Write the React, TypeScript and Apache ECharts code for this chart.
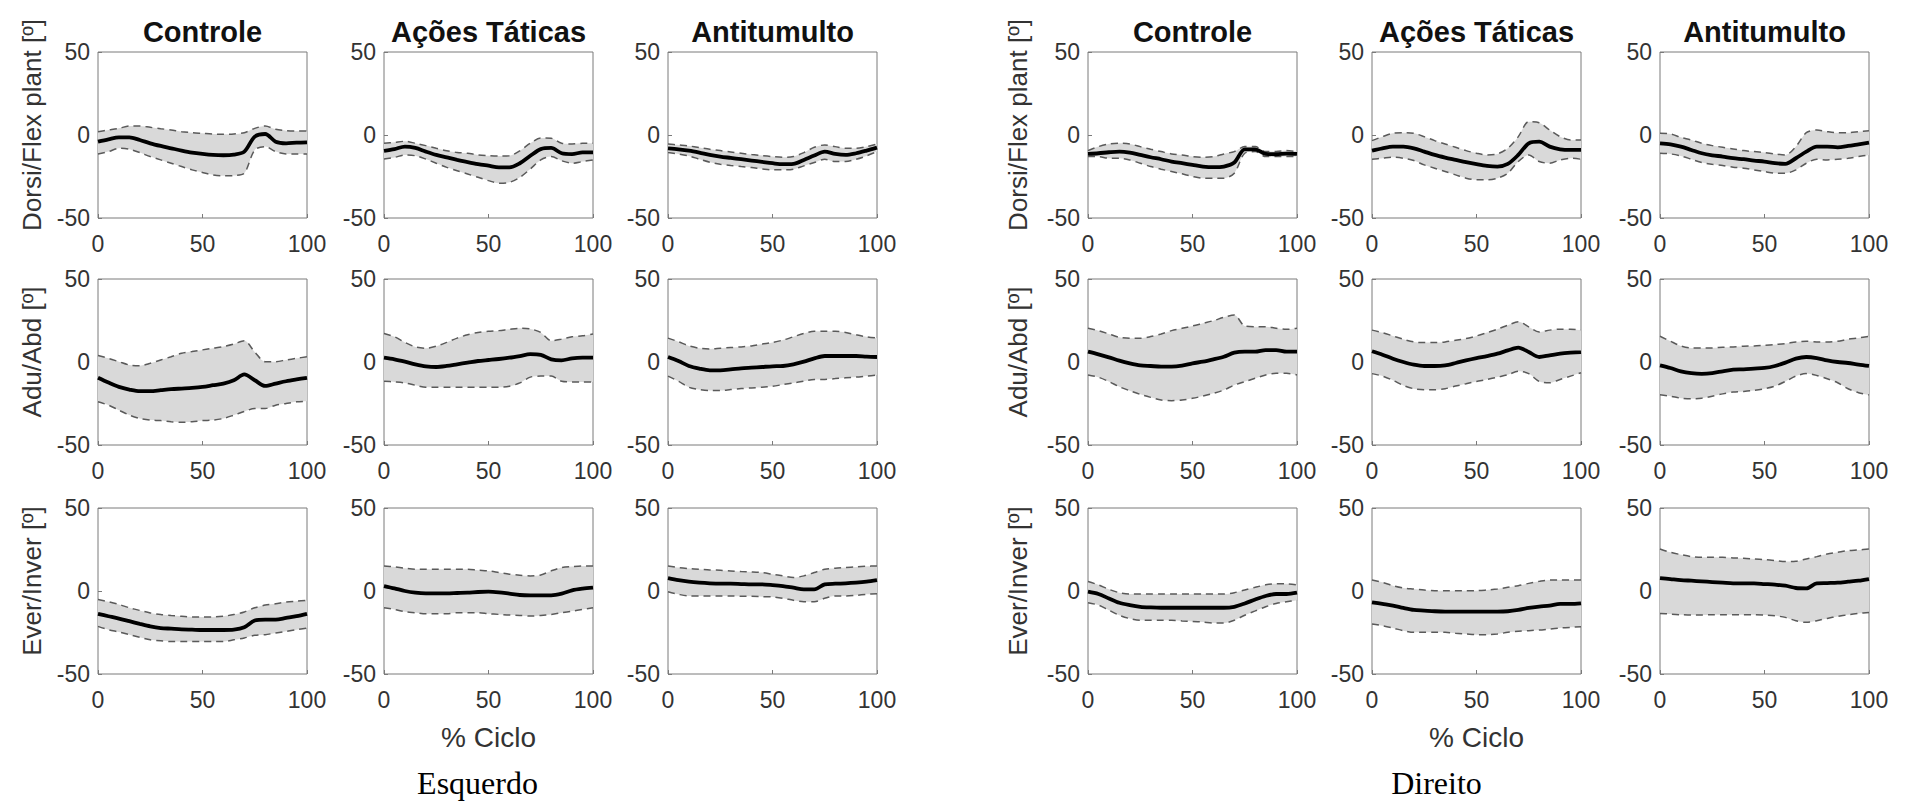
import React, { useEffect, useRef } from "react";
import * as echarts from "echarts";

// ---------------- DATA ----------------
const pct = [0, 5, 10, 15, 20, 25, 30, 35, 40, 45, 50, 55, 60, 65, 70, 75, 80, 85, 90, 95, 100];
const xTickValues = [0, 50, 100];
const groupTitles = ["Controle", "Ações Táticas", "Antitumulto"];
const rowLabels = ["Dorsi/Flex plant [º]", "Adu/Abd [º]", "Ever/Inver [º]"];
const sideLabels = ["Esquerdo", "Direito"];
const xAxisTitle = "% Ciclo";
const yMin = -50;
const yMax = 50;
const yTickStep = 50;

// Esquerdo – Dorsi/Flex plant
const L_DF_CTRL_MEAN = [-4, -2.6, -1.4, -1.4, -3, -5, -6.6, -8, -9.4, -10.6, -11.4, -12, -12.2, -11.8, -10, -1, 0.6, -4, -5, -4.6, -4.4];
const L_DF_CTRL_UP = [2, 3, 4, 5.4, 5.4, 4.6, 3.8, 3, 2, 1.4, 1, 0.6, 0.4, 0.6, 1.4, 4, 5.4, 3.4, 2.6, 2.4, 2.4];
const L_DF_CTRL_LO = [-11.4, -10, -8, -8.6, -10.6, -13, -15, -17, -19, -21, -22.6, -24, -24.6, -24.4, -23, -9, -7, -10, -11.4, -11.4, -11.4];

const L_DF_TAT_MEAN = [-9.5, -8.5, -7, -7.8, -10, -12, -13.5, -15, -16.3, -17.5, -18.5, -19.5, -19.5, -17, -12.5, -8.5, -7.8, -11, -11.5, -10.5, -10.5];
const L_DF_TAT_UP = [-5, -4.4, -3.8, -5, -6.4, -8, -9.5, -10.5, -11, -12, -12.5, -12.7, -12.5, -9.5, -5, -1.8, -2, -5, -5.4, -5, -5];
const L_DF_TAT_LO = [-14.5, -13.5, -12, -12.5, -14.5, -17, -19.5, -21.5, -23.5, -25.5, -27.5, -29, -28.5, -25.5, -20.5, -15, -13, -15.5, -17, -16, -15];

const L_DF_ANT_MEAN = [-8, -8.6, -9.4, -10.6, -12, -13, -13.8, -14.6, -15.4, -16.2, -17, -17.6, -17.4, -15, -12.4, -10, -11.4, -12, -11, -9.4, -7.6];
const L_DF_ANT_UP = [-5.4, -6, -6.6, -7.6, -8.6, -9.4, -10.2, -11, -11.8, -12.4, -13, -13.4, -13, -10.6, -7.4, -6, -7, -8, -8, -7, -5.4];
const L_DF_ANT_LO = [-10.6, -11.4, -12.6, -14.6, -16.4, -17.6, -18.4, -19, -19.6, -20.4, -21, -21, -20.6, -18.6, -16.6, -14.6, -16, -16, -14.6, -12.6, -10];

// Esquerdo – Adu/Abd
const L_AA_CTRL_MEAN = [-9.5, -12.4, -15, -16.6, -17.6, -17.6, -17, -16.4, -16, -15.6, -15, -14, -13, -11, -7.5, -11, -14.4, -13, -11.6, -10.5, -9.5];
const L_AA_CTRL_UP = [3.9, 2.2, 0.2, -1.8, -2.2, -0.8, 1.2, 3.2, 5.3, 6.3, 7.3, 8.3, 9.3, 10.8, 12.8, 6, 0.2, 0.2, 1.2, 2.2, 3.2];
const L_AA_CTRL_LO = [-24, -26, -29, -32, -34, -35, -35.3, -36, -36.3, -36, -35.3, -35, -34, -32, -29.8, -28, -28, -26, -25, -24, -23.7];

const L_AA_TAT_MEAN = [2.6, 1.6, 0.2, -1.4, -2.6, -3, -2.4, -1.4, -0.4, 0.6, 1.2, 1.8, 2.6, 3.6, 4.7, 4.3, 1.6, 1, 2.2, 2.6, 2.6];
const L_AA_TAT_UP = [17.2, 15.2, 11.8, 9.1, 8.3, 9.5, 11.8, 14.4, 16.4, 17.8, 18.5, 18.9, 19.7, 20.3, 19.9, 17.8, 12.8, 13.8, 15.2, 15.8, 16.8];
const L_AA_TAT_LO = [-11.6, -12, -12.6, -14, -15.2, -15.2, -15.2, -15.2, -15.2, -15.2, -15.2, -15.2, -14.6, -12.6, -9.1, -8.5, -8.5, -11.6, -12, -12, -12];

const L_AA_ANT_MEAN = [3, 0.6, -2.4, -4, -5, -5, -4.5, -3.8, -3.4, -3, -2.6, -2.4, -1.4, 0.2, 2.2, 3.6, 3.6, 3.6, 3.6, 3.2, 3];
const L_AA_ANT_UP = [14.4, 12.2, 9.7, 8.3, 7.9, 8.3, 8.7, 9.1, 9.7, 10.8, 11.8, 13.2, 15.2, 17.2, 18.5, 18.5, 18.5, 17.8, 16.4, 15.2, 14.4];
const L_AA_ANT_LO = [-8.5, -11.6, -15.2, -16.6, -17.2, -17.2, -16.6, -16, -15.6, -15.2, -14.6, -13.6, -12.6, -11.6, -10.5, -10.5, -10, -9.5, -9.1, -8.5, -7.9];

// Esquerdo – Ever/Inver
const L_EI_CTRL_MEAN = [-13.8, -15.2, -16.6, -18.2, -19.8, -21.3, -22.3, -22.7, -23.1, -23.3, -23.5, -23.5, -23.5, -23.3, -21.9, -17.8, -17.2, -17.2, -16.2, -15.2, -13.8];
const L_EI_CTRL_UP = [-5.1, -6.5, -8.1, -10.1, -11.7, -13.2, -14.2, -14.8, -15.2, -15.6, -15.6, -15.6, -15.2, -14.2, -12.6, -10.1, -8.5, -7.7, -6.7, -6.1, -5.7];
const L_EI_CTRL_LO = [-21.3, -23.3, -24.7, -26.3, -27.9, -29.4, -30, -30.4, -30.4, -30.4, -30.4, -30.4, -30.4, -29.4, -28.3, -26.7, -26.3, -25.3, -24.3, -23.3, -22.3];

const L_EI_TAT_MEAN = [3, 1.6, 0, -1, -1.4, -1.4, -1.4, -1.2, -1, -0.6, -0.4, -0.8, -1.6, -2.4, -2.6, -2.6, -2.6, -1.6, 0.4, 1.4, 2];
const L_EI_TAT_UP = [15.1, 14.5, 13.7, 13.1, 13.1, 13.1, 13.1, 13.1, 13.1, 12.5, 12.1, 11.1, 10.1, 9.5, 9.1, 9.7, 12.1, 14.1, 14.7, 15.1, 15.1];
const L_EI_TAT_LO = [-10.1, -11.1, -12.5, -13.1, -13.7, -13.7, -13.7, -13.1, -13.1, -13.1, -13.7, -14.1, -14.5, -14.7, -15.1, -14.7, -14.1, -13.1, -12.1, -11.1, -10.1];

const L_EI_ANT_MEAN = [7.7, 6.5, 5.6, 5, 4.6, 4.4, 4.4, 4.2, 4, 4, 3.6, 3, 2, 1, 1, 4, 4.4, 4.6, 5, 5.6, 6.5];
const L_EI_ANT_UP = [15.1, 14.1, 13.5, 13.1, 12.7, 12.5, 12.1, 11.7, 11.5, 11.1, 10.1, 9.1, 8.1, 9.1, 11.1, 13.1, 13.7, 14.1, 14.5, 14.9, 15.1];
const L_EI_ANT_LO = [-0.4, -2, -3, -3, -3, -3, -3, -3.2, -3.2, -3.4, -3.6, -4.4, -5.6, -6.5, -6.5, -4.4, -3, -3, -2.6, -2, -1.6];

// Direito – Dorsi/Flex plant
const R_DF_CTRL_MEAN = [-11.4, -11, -10.4, -10, -10.6, -12, -13.4, -14.6, -16, -17, -18, -19, -19.4, -19, -16.6, -8.6, -8.6, -11.4, -11.6, -11.2, -11.4];
const R_DF_CTRL_UP = [-9.4, -7, -5.4, -5, -5.4, -7, -8.6, -10, -11.4, -12, -13, -13.4, -13, -11.4, -10, -7, -7, -10, -10, -9.4, -10];
const R_DF_CTRL_LO = [-13, -13, -14, -14, -15, -17, -19, -20.6, -22, -23.4, -25, -26, -26, -26, -23, -11, -10, -13, -13, -13, -13];

const R_DF_TAT_MEAN = [-9.4, -8, -7, -7, -8, -10, -12, -13.6, -15, -16.4, -17.6, -18.6, -19, -17.4, -12, -5, -4, -7, -8.6, -9, -9];
const R_DF_TAT_UP = [-3.4, -1, 1, 1.4, 1, -1, -3.4, -5.4, -7.4, -9.4, -11, -12, -11.4, -8, -1, 8, 7.4, 3, -1, -3, -3];
const R_DF_TAT_LO = [-14.6, -14, -13.4, -14, -15.4, -18, -20, -22, -24, -26, -27, -27, -26, -23, -16, -12, -16, -17, -15, -14, -14.6];

const R_DF_ANT_MEAN = [-5, -5.6, -7, -9, -11, -12.2, -13, -14, -14.6, -15.4, -16, -17, -17.4, -14, -10, -7, -7, -7.4, -6.6, -5.6, -4.6];
const R_DF_ANT_UP = [1, 0.6, -1.4, -3, -5, -6.4, -7.4, -8.4, -9.4, -10, -10.6, -11.4, -12, -7, 1.4, 3, 2, 1.4, 1.4, 2, 2.6];
const R_DF_ANT_LO = [-11, -11.4, -12.6, -14.6, -16.6, -17.6, -18.4, -19.4, -20, -21, -22, -23, -23, -21, -17, -14.6, -15, -14.6, -14, -13, -12];

// Direito – Adu/Abd
const R_AA_CTRL_MEAN = [6.2, 4.6, 2.8, 0.8, -0.8, -2, -2.4, -2.8, -2.8, -2.2, -0.8, 0.2, 1.6, 3.2, 5.6, 6.2, 6.2, 7.2, 7.2, 6.2, 6.2];
const R_AA_CTRL_UP = [20.3, 18.9, 16.9, 14.9, 14.3, 14.3, 15.3, 16.9, 18.9, 20.3, 21.7, 23.3, 24.9, 26.9, 28.3, 21.7, 21.3, 21.3, 20.3, 19.7, 20.3];
const R_AA_CTRL_LO = [-7.8, -9.2, -11.8, -14.9, -17.3, -19.5, -21.3, -22.9, -23.3, -22.9, -21.9, -20.5, -18.9, -16.9, -13.9, -11.8, -9.8, -7.8, -6.8, -6.8, -7.8];

const R_AA_TAT_MEAN = [6.5, 4.4, 2, 0, -1.6, -2.4, -2.4, -2, -0.6, 1, 2.4, 3.6, 5, 7, 8.7, 6, 3, 4, 5, 5.6, 6];
const R_AA_TAT_UP = [19.2, 17.7, 15.7, 13.7, 12.1, 11.7, 11.7, 12.1, 13.1, 14.1, 15.7, 17.7, 19.8, 22.2, 24.2, 21.2, 18.1, 19.2, 19.8, 19.8, 19.2];
const R_AA_TAT_LO = [-7, -8.5, -11, -14.1, -16.1, -16.7, -16.7, -16.1, -14.5, -13.1, -11.7, -10.5, -9.1, -7.7, -5.6, -7, -11.7, -12.5, -10.5, -8.5, -6.5];

const R_AA_ANT_MEAN = [-2, -3.6, -5.6, -6.7, -7.1, -6.7, -5.6, -4.6, -4.4, -4, -3.6, -2.4, -0.4, 2, 3, 2.4, 1, 0, -0.6, -1.6, -2.4];
const R_AA_ANT_UP = [15.5, 12.5, 9.7, 8.5, 8.5, 8.5, 8.9, 9.1, 9.5, 9.7, 10.1, 10.5, 11.1, 12.1, 12.5, 12.1, 12.1, 12.5, 13.7, 14.5, 15.5];
const R_AA_ANT_LO = [-19.8, -20.6, -21.8, -22.2, -21.8, -20.6, -19.2, -18.1, -17.7, -17.1, -16.1, -14.5, -11.7, -8.5, -7, -8.1, -10.1, -12.5, -16.1, -18.5, -19.8];

// Direito – Ever/Inver
const R_EI_CTRL_MEAN = [-0.4, -1.8, -4.5, -7.1, -8.5, -9.5, -9.9, -10.1, -10.1, -10.1, -10.1, -10.1, -10.1, -10.1, -9.5, -7.5, -5.1, -3, -1.8, -1.8, -1];
const R_EI_CTRL_UP = [5.7, 3.7, 1, -1, -1.8, -1.8, -1.8, -1.8, -1.8, -1.8, -1.8, -1.8, -1.8, -1.8, -1, 0.6, 2.2, 3.7, 4.3, 4.3, 3.7];
const R_EI_CTRL_LO = [-7.1, -8.5, -11.6, -14.6, -16.6, -17.6, -17.6, -17.6, -17.6, -18, -18.3, -18.7, -19.3, -19.3, -17.6, -14.6, -12, -9.5, -7.5, -6.5, -5.5];

const R_EI_TAT_MEAN = [-6.8, -7.8, -8.8, -10.2, -11.4, -11.8, -12.2, -12.4, -12.4, -12.4, -12.4, -12.4, -12.4, -12.2, -11.4, -10.2, -9.4, -8.8, -7.8, -7.8, -7.4];
const R_EI_TAT_UP = [6.6, 5.2, 3.2, 1.8, 1.2, 0.6, 0.2, 0.2, 0.2, 0.2, 0.2, 0.6, 1.2, 2.2, 3.2, 4.6, 5.8, 6.6, 6.6, 6.6, 6.6];
const R_EI_TAT_LO = [-19.9, -20.9, -22.3, -23.9, -24.9, -24.9, -24.9, -24.9, -25.5, -25.9, -26.3, -26.3, -25.9, -24.9, -24.3, -23.9, -23.5, -22.9, -22.3, -21.9, -21.5];

const R_EI_ANT_MEAN = [7.8, 7.2, 6.6, 6.2, 5.8, 5.4, 5, 4.6, 4.6, 4.6, 4.2, 3.8, 3.2, 1.8, 1.6, 4.6, 4.8, 5, 5.6, 6.2, 7.2];
const R_EI_ANT_UP = [25.3, 23.3, 21.9, 20.7, 20.3, 20.3, 20.3, 19.9, 19.7, 19.3, 18.9, 18.3, 17.7, 17.9, 19.3, 20.7, 22.3, 23.3, 24.3, 24.7, 25.3];
const R_EI_ANT_LO = [-13.5, -13.9, -14.3, -14.5, -14.5, -14.3, -14.3, -14.3, -14.3, -14.3, -14.5, -14.9, -15.9, -17.9, -18.9, -17.9, -16.5, -15.3, -14.3, -13.5, -12.9];

// panel table: [side, row, col, mean, upper, lower]
const panels: [number, number, number, number[], number[], number[]][] = [
  [0, 0, 0, L_DF_CTRL_MEAN, L_DF_CTRL_UP, L_DF_CTRL_LO],
  [0, 0, 1, L_DF_TAT_MEAN, L_DF_TAT_UP, L_DF_TAT_LO],
  [0, 0, 2, L_DF_ANT_MEAN, L_DF_ANT_UP, L_DF_ANT_LO],
  [0, 1, 0, L_AA_CTRL_MEAN, L_AA_CTRL_UP, L_AA_CTRL_LO],
  [0, 1, 1, L_AA_TAT_MEAN, L_AA_TAT_UP, L_AA_TAT_LO],
  [0, 1, 2, L_AA_ANT_MEAN, L_AA_ANT_UP, L_AA_ANT_LO],
  [0, 2, 0, L_EI_CTRL_MEAN, L_EI_CTRL_UP, L_EI_CTRL_LO],
  [0, 2, 1, L_EI_TAT_MEAN, L_EI_TAT_UP, L_EI_TAT_LO],
  [0, 2, 2, L_EI_ANT_MEAN, L_EI_ANT_UP, L_EI_ANT_LO],
  [1, 0, 0, R_DF_CTRL_MEAN, R_DF_CTRL_UP, R_DF_CTRL_LO],
  [1, 0, 1, R_DF_TAT_MEAN, R_DF_TAT_UP, R_DF_TAT_LO],
  [1, 0, 2, R_DF_ANT_MEAN, R_DF_ANT_UP, R_DF_ANT_LO],
  [1, 1, 0, R_AA_CTRL_MEAN, R_AA_CTRL_UP, R_AA_CTRL_LO],
  [1, 1, 1, R_AA_TAT_MEAN, R_AA_TAT_UP, R_AA_TAT_LO],
  [1, 1, 2, R_AA_ANT_MEAN, R_AA_ANT_UP, R_AA_ANT_LO],
  [1, 2, 0, R_EI_CTRL_MEAN, R_EI_CTRL_UP, R_EI_CTRL_LO],
  [1, 2, 1, R_EI_TAT_MEAN, R_EI_TAT_UP, R_EI_TAT_LO],
  [1, 2, 2, R_EI_ANT_MEAN, R_EI_ANT_UP, R_EI_ANT_LO],
];

// ---------------- LAYOUT ----------------
const COL_LEFT = [
  [98, 384, 668],
  [1088, 1372, 1660],
];
const ROW_TOP = [52, 279, 508];
const PW = 209;
const PH = 166;
const FONT = "'Liberation Sans', Arial, Helvetica, sans-serif";
const SERIF = "'Liberation Serif', 'Times New Roman', serif";
const AXIS_COLOR = "#7a7a7a";
const TEXT_COLOR = "#333333";
const BAND_COLOR = "#d9d9d9";
const DASH_COLOR = "#5a5a5a";
const SMOOTH = 0.3;

const isXTick = (_i: number, v: any) => xTickValues.indexOf(Number(v)) >= 0;

function buildOption() {
  const grid: any[] = [];
  const xAxis: any[] = [];
  const yAxis: any[] = [];
  const series: any[] = [];
  const graphic: any[] = [];

  panels.forEach(([side, row, col, mean, upper, lower], i) => {
    grid.push({
      left: COL_LEFT[side][col],
      top: ROW_TOP[row],
      width: PW,
      height: PH,
      show: true,
      borderColor: AXIS_COLOR,
      borderWidth: 1,
      backgroundColor: "#ffffff",
      containLabel: false,
    });
    xAxis.push({
      type: "category",
      gridIndex: i,
      data: pct.map(String),
      boundaryGap: false,
      position: "bottom",
      axisLine: { show: false, onZero: false },
      axisTick: {
        show: true,
        inside: true,
        length: 4,
        interval: isXTick,
        lineStyle: { color: AXIS_COLOR },
      },
      splitLine: { show: false },
      axisLabel: {
        interval: isXTick,
        fontSize: 23,
        color: TEXT_COLOR,
        margin: 14,
        fontFamily: FONT,
      },
    });
    yAxis.push({
      type: "value",
      gridIndex: i,
      min: yMin,
      max: yMax,
      interval: yTickStep,
      position: "left",
      axisLine: { show: false, onZero: false },
      axisTick: { show: true, inside: true, length: 4, lineStyle: { color: AXIS_COLOR } },
      splitLine: { show: false },
      axisLabel: { fontSize: 23, color: TEXT_COLOR, margin: 8, fontFamily: FONT },
    });
    const band = upper.map((u, k) => +(u - lower[k]).toFixed(2));
    const common = {
      type: "line",
      xAxisIndex: i,
      yAxisIndex: i,
      symbol: "none",
      smooth: SMOOTH,
      silent: true,
    };
    series.push({
      ...common,
      name: "base" + i,
      stack: "band" + i,
      stackStrategy: "all",
      data: lower,
      lineStyle: { width: 0, opacity: 0 },
    });
    series.push({
      ...common,
      name: "sd" + i,
      stack: "band" + i,
      stackStrategy: "all",
      data: band,
      lineStyle: { width: 0, opacity: 0 },
      areaStyle: { color: BAND_COLOR, opacity: 1 },
    });
    series.push({
      ...common,
      name: "up" + i,
      data: upper,
      lineStyle: { width: 1.5, color: DASH_COLOR, type: [7, 5] },
    });
    series.push({
      ...common,
      name: "lo" + i,
      data: lower,
      lineStyle: { width: 1.5, color: DASH_COLOR, type: [7, 5] },
    });
    series.push({
      ...common,
      name: "mean" + i,
      data: mean,
      lineStyle: { width: 3.8, color: "#000000" },
    });
  });

  [0, 1].forEach((side) => {
    groupTitles.forEach((t, col) => {
      graphic.push({
        type: "text",
        x: COL_LEFT[side][col] + PW / 2,
        y: 32,
        style: {
          text: t,
          fontSize: 29,
          fontWeight: "bold",
          fontFamily: FONT,
          fill: "#111111",
          textAlign: "center",
          textVerticalAlign: "middle",
        },
      });
    });
    rowLabels.forEach((t, row) => {
      graphic.push({
        type: "text",
        x: COL_LEFT[side][0] - (side === 0 ? 66 : 70),
        y: ROW_TOP[row] + PH / 2 - 10,
        rotation: Math.PI / 2,
        style: {
          text: t,
          fontSize: 26,
          fontFamily: FONT,
          fill: TEXT_COLOR,
          textAlign: "center",
          textVerticalAlign: "middle",
        },
      });
    });
    graphic.push({
      type: "text",
      x: COL_LEFT[side][1] + PW / 2,
      y: 737,
      style: {
        text: xAxisTitle,
        fontSize: 28,
        fontFamily: FONT,
        fill: TEXT_COLOR,
        textAlign: "center",
        textVerticalAlign: "middle",
      },
    });
    graphic.push({
      type: "text",
      x: COL_LEFT[side][1] + PW / 2 - (side === 0 ? 11 : 40),
      y: 783,
      style: {
        text: sideLabels[side],
        fontSize: 32,
        fontFamily: SERIF,
        fill: "#000000",
        textAlign: "center",
        textVerticalAlign: "middle",
      },
    });
  });

  return {
    animation: false,
    backgroundColor: "#ffffff",
    grid,
    xAxis,
    yAxis,
    series,
    graphic,
  };
}

export default function App() {
  const ref = useRef<HTMLDivElement>(null);
  useEffect(() => {
    if (!ref.current) return;
    const chart = echarts.init(ref.current, null, { renderer: "svg" });
    chart.setOption(buildOption() as any);
    return () => chart.dispose();
  }, []);
  return (
    <div
      ref={ref}
      style={{ position: "absolute", left: 0, top: 0, width: 1910, height: 803, background: "#fff" }}
    />
  );
}
